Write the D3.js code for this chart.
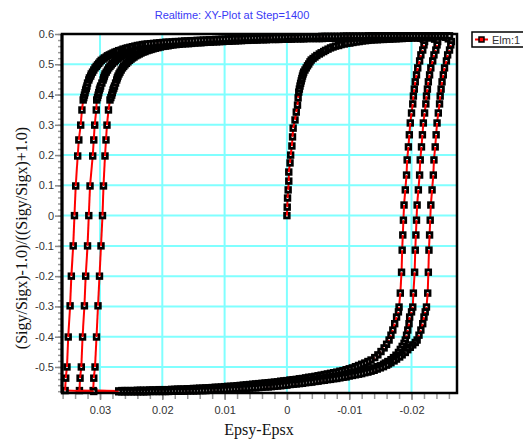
<!DOCTYPE html>
<html>
<head>
<meta charset="utf-8">
<script src="https://cdnjs.cloudflare.com/ajax/libs/d3/7.8.5/d3.min.js"></script>
<style>
  body { margin: 0; background: #fff; }
  svg { display: block; }
  .tick-label { font-family: "Liberation Sans", Arial, sans-serif; font-size: 11px; fill: #333; }
  .axis-title { font-family: "Liberation Serif", "Times New Roman", serif; font-size: 16px; fill: #111; }
</style>
</head>
<body>
<div id="canvas-wrapper"></div>
<script>
// tick labels
var xTicks = [0.03, 0.02, 0.01, 0, -0.01, -0.02];
var yTicks = [0.6, 0.5, 0.4, 0.3, 0.2, 0.1, 0, -0.1, -0.2, -0.3, -0.4, -0.5];

// Elm:1 history, [Epsy-Epsx, stress ratio], in the order it was recorded
var initialBranch = [[0,0],[-0.00005,0.028],[-0.0001,0.058],[-0.0002,0.085],[-0.0003,0.114],[-0.0003,0.144],
  [-0.0005,0.174],[-0.0006,0.200],[-0.0008,0.230],[-0.0009,0.260],[-0.001,0.289],[-0.0013,0.316],[-0.0015,0.342],
  [-0.0017,0.365],[-0.0018,0.389],[-0.0019,0.408],[-0.0020,0.418],[-0.0021,0.428],[-0.0022,0.437],[-0.0023,0.445],
  [-0.0024,0.453],[-0.0025,0.461],[-0.0026,0.468],[-0.0027,0.474],[-0.0029,0.481],[-0.0031,0.488],[-0.0033,0.495],
  [-0.0035,0.501],[-0.0037,0.508],[-0.0039,0.514],[-0.0042,0.519],[-0.0045,0.524],[-0.0048,0.529],[-0.0052,0.534],
  [-0.0055,0.538],[-0.0059,0.542],[-0.0062,0.546],[-0.0066,0.550],[-0.0070,0.554],[-0.0074,0.557],[-0.0078,0.560],
  [-0.0083,0.562],[-0.0087,0.565],[-0.0092,0.567],[-0.0096,0.569],[-0.0101,0.570],[-0.0106,0.572],[-0.0111,0.574],
  [-0.0116,0.575],[-0.0121,0.577],[-0.0126,0.578],[-0.013,0.579]];
var topBranch0 = [[-0.0135,0.580],[-0.014,0.581],[-0.0145,0.581],[-0.015,0.582],[-0.0155,0.582],[-0.016,0.583],
  [-0.0165,0.583],[-0.017,0.584],[-0.0175,0.584],[-0.018,0.585],[-0.0185,0.585],[-0.019,0.586],[-0.0195,0.586],
  [-0.020,0.587],[-0.0205,0.587],[-0.021,0.587],[-0.0215,0.586],[-0.0219,0.583]];

var rightBranch1 = [[-0.0221,0.575],[-0.0220,0.564],[-0.0218,0.547],[-0.0215,0.531],[-0.0213,0.511],[-0.0210,0.488],
  [-0.0208,0.465],[-0.0206,0.442],[-0.02045,0.418],[-0.0203,0.395],[-0.0202,0.369],[-0.0200,0.339],[-0.0198,0.306],
  [-0.01965,0.267],[-0.0195,0.227],[-0.0193,0.184],[-0.0192,0.134],[-0.0190,0.085],[-0.0188,0.035],[-0.0187,-0.015],
  [-0.0186,-0.064],[-0.0185,-0.114],[-0.0184,-0.187],[-0.0182,-0.256],[-0.0180,-0.302],[-0.0179,-0.318],
  [-0.0176,-0.335],[-0.0173,-0.357],[-0.0170,-0.378],[-0.0167,-0.395],[-0.0164,-0.411],[-0.0160,-0.425],
  [-0.0156,-0.437],[-0.0151,-0.449],[-0.0146,-0.460],[-0.0141,-0.469],[-0.0135,-0.477],[-0.0130,-0.482]];
var bottomBranch1 = [[-0.0125,-0.487],[-0.0120,-0.491],[-0.0115,-0.495],[-0.0110,-0.499],[-0.0105,-0.503],
  [-0.0100,-0.506],[-0.0095,-0.509],[-0.0090,-0.512],[-0.0085,-0.514],[-0.0080,-0.517],[-0.0075,-0.519],
  [-0.0070,-0.521],[-0.0065,-0.523],[-0.0060,-0.525],[-0.0055,-0.527],[-0.0050,-0.529],[-0.0045,-0.531],
  [-0.0040,-0.533],[-0.0035,-0.534],[-0.0030,-0.536],[-0.0025,-0.538],[-0.0020,-0.539],[-0.0015,-0.541],
  [-0.0010,-0.542],[-0.0005,-0.543],[0.0000,-0.545],[0.0005,-0.546],[0.0010,-0.547],[0.0015,-0.549],[0.0020,-0.550],
  [0.0025,-0.551],[0.0030,-0.552],[0.0035,-0.553],[0.0040,-0.554],[0.0045,-0.555],[0.0050,-0.556],[0.0055,-0.557],
  [0.0060,-0.558],[0.0065,-0.559],[0.0070,-0.560],[0.0075,-0.561],[0.0080,-0.562],[0.0085,-0.563],[0.0090,-0.564],
  [0.0095,-0.564],[0.0100,-0.565],[0.0105,-0.566],[0.0110,-0.567],[0.0115,-0.567],[0.0120,-0.568],[0.0125,-0.569],
  [0.0130,-0.569],[0.0135,-0.570],[0.0140,-0.570],[0.0145,-0.571],[0.0150,-0.571],[0.0155,-0.572],[0.0160,-0.572],
  [0.0165,-0.573],[0.0170,-0.573],[0.0175,-0.573],[0.0180,-0.574],[0.0185,-0.574],[0.0190,-0.575],[0.0195,-0.575],
  [0.0200,-0.575],[0.0205,-0.575],[0.0210,-0.576],[0.0215,-0.576],[0.0220,-0.576],[0.0225,-0.577],[0.0230,-0.577],
  [0.0235,-0.577],[0.0240,-0.577],[0.0245,-0.578],[0.0250,-0.578],[0.0255,-0.578],[0.0260,-0.578],[0.0265,-0.578],
  [0.0270,-0.579],[0.0311,-0.578]];
var leftBranch1 = [[0.0310,-0.537],[0.0308,-0.500],[0.03056,-0.401],[0.03032,-0.298],[0.03008,-0.200],
  [0.02984,-0.100],[0.0296,0.0],[0.02944,0.098],[0.0292,0.197],[0.02904,0.250],[0.02888,0.299],[0.02864,0.349],
  [0.0284,0.382],[0.02826,0.390],[0.02812,0.398],[0.02802,0.406],[0.02791,0.415],[0.02779,0.421],[0.02767,0.428],
  [0.0275,0.438],[0.02732,0.448],[0.02722,0.455],[0.02711,0.461],[0.02695,0.468],[0.02679,0.474],[0.0266,0.481],
  [0.02639,0.488],[0.0262,0.493],[0.02599,0.498],[0.02575,0.503],[0.02551,0.508],[0.02527,0.513],[0.02502,0.517],
  [0.02478,0.521],[0.02454,0.524],[0.02426,0.528],[0.02398,0.531],[0.0237,0.534],[0.02342,0.537],[0.0231,0.540],
  [0.02278,0.542],[0.02245,0.545],[0.02213,0.547],[0.0218,0.549],[0.02149,0.551],[0.0211,0.553],[0.02069,0.555],
  [0.0203,0.557],[0.01989,0.559],[0.0195,0.560],[0.01908,0.561],[0.0187,0.563],[0.01828,0.564]];
var topBranch1 = [[0.0178,0.565],[0.0173,0.566],[0.0168,0.567],[0.0163,0.568],[0.0158,0.568],[0.0153,0.569],
  [0.0148,0.570],[0.0143,0.571],[0.0138,0.571],[0.0133,0.572],[0.0128,0.573],[0.0123,0.573],[0.0118,0.574],
  [0.0113,0.574],[0.0108,0.575],[0.0103,0.575],[0.0098,0.576],[0.0093,0.576],[0.0088,0.577],[0.0083,0.577],
  [0.0078,0.578],[0.0073,0.578],[0.0068,0.579],[0.0063,0.579],[0.0058,0.580],[0.0053,0.580],[0.0048,0.580],
  [0.0043,0.581],[0.0038,0.581],[0.0033,0.581],[0.0028,0.582],[0.0023,0.582],[0.0018,0.582],[0.0013,0.582],
  [0.0008,0.583],[0.0003,0.583],[-0.0002,0.583],[-0.0007,0.583],[-0.0012,0.584],[-0.0017,0.584],[-0.0022,0.584],
  [-0.0027,0.584],[-0.0032,0.585],[-0.0037,0.585],[-0.0042,0.585],[-0.0047,0.585],[-0.0052,0.585],[-0.0057,0.585],
  [-0.0062,0.586],[-0.0067,0.586],[-0.0072,0.586],[-0.0077,0.586],[-0.0082,0.586],[-0.0087,0.586],[-0.0092,0.587],
  [-0.0097,0.587],[-0.0102,0.587],[-0.0107,0.587],[-0.0112,0.587],[-0.0117,0.587],[-0.0122,0.587],[-0.0127,0.587],
  [-0.0132,0.588],[-0.0137,0.588],[-0.0142,0.588],[-0.0147,0.588],[-0.0152,0.588],[-0.0157,0.588],[-0.0162,0.588],
  [-0.0167,0.588],[-0.0172,0.589],[-0.0177,0.589],[-0.0182,0.589],[-0.0187,0.589],[-0.0192,0.589],[-0.0197,0.589],
  [-0.0202,0.589],[-0.0207,0.589],[-0.0212,0.589],[-0.0217,0.589],[-0.0222,0.589],[-0.0227,0.588],[-0.0232,0.587],
  [-0.0237,0.583]];

var rightBranch2 = [[-0.0242,0.575],[-0.0241,0.564],[-0.0239,0.547],[-0.0236,0.531],[-0.0234,0.511],[-0.0231,0.488],
  [-0.0229,0.465],[-0.0227,0.442],[-0.02255,0.418],[-0.0224,0.395],[-0.0223,0.369],[-0.0221,0.339],[-0.0219,0.306],
  [-0.02175,0.267],[-0.0216,0.227],[-0.0214,0.184],[-0.0213,0.134],[-0.0211,0.085],[-0.0209,0.035],[-0.0208,-0.015],
  [-0.0207,-0.064],[-0.0206,-0.114],[-0.0205,-0.187],[-0.0203,-0.256],[-0.0202,-0.302],[-0.0200,-0.318],
  [-0.0197,-0.335],[-0.0196,-0.357],[-0.0194,-0.378],[-0.0192,-0.395],[-0.0190,-0.411],[-0.0188,-0.422],
  [-0.0185,-0.432],[-0.0182,-0.442],[-0.0179,-0.452],[-0.0175,-0.461],[-0.0171,-0.469],[-0.0167,-0.476],
  [-0.0162,-0.482],[-0.0158,-0.487]];
var bottomBranch2 = [[-0.0155,-0.491],[-0.0150,-0.496],[-0.0145,-0.499],[-0.0140,-0.503],[-0.0135,-0.506],
  [-0.0130,-0.509],[-0.0125,-0.511],[-0.0120,-0.514],[-0.0115,-0.516],[-0.0110,-0.518],[-0.0105,-0.520],
  [-0.0100,-0.522],[-0.0095,-0.524],[-0.0090,-0.527],[-0.0085,-0.528],[-0.0080,-0.530],[-0.0075,-0.532],
  [-0.0070,-0.533],[-0.0065,-0.535],[-0.0060,-0.537],[-0.0055,-0.538],[-0.0050,-0.540],[-0.0045,-0.542],
  [-0.0040,-0.543],[-0.0035,-0.545],[-0.0030,-0.546],[-0.0025,-0.547],[-0.0020,-0.549],[-0.0015,-0.550],
  [-0.0010,-0.551],[-0.0005,-0.552],[0.0000,-0.553],[0.0005,-0.554],[0.0010,-0.555],[0.0015,-0.556],[0.0020,-0.557],
  [0.0025,-0.558],[0.0030,-0.559],[0.0035,-0.560],[0.0040,-0.561],[0.0045,-0.562],[0.0050,-0.563],[0.0055,-0.564],
  [0.0060,-0.564],[0.0065,-0.565],[0.0070,-0.566],[0.0075,-0.567],[0.0080,-0.567],[0.0085,-0.568],[0.0090,-0.569],
  [0.0095,-0.569],[0.0100,-0.570],[0.0105,-0.571],[0.0110,-0.571],[0.0115,-0.572],[0.0120,-0.572],[0.0125,-0.573],
  [0.0130,-0.573],[0.0135,-0.574],[0.0140,-0.574],[0.0145,-0.575],[0.0150,-0.575],[0.0155,-0.576],[0.0160,-0.576],
  [0.0165,-0.576],[0.0170,-0.577],[0.0175,-0.577],[0.0180,-0.577],[0.0185,-0.578],[0.0190,-0.578],[0.0195,-0.578],
  [0.0200,-0.578],[0.0205,-0.579],[0.0210,-0.579],[0.0215,-0.579],[0.0220,-0.579],[0.0225,-0.579],[0.0230,-0.580],
  [0.0235,-0.580],[0.0240,-0.580],[0.0245,-0.580],[0.0250,-0.580],[0.0255,-0.580],[0.0260,-0.580],[0.0265,-0.580],
  [0.0333,-0.578]];
var leftBranch2 = [[0.0332,-0.537],[0.0330,-0.500],[0.0328,-0.401],[0.0325,-0.298],[0.0323,-0.200],[0.0320,-0.100],
  [0.0318,0.0],[0.0316,0.098],[0.03117,0.197],[0.0310,0.250],[0.03085,0.299],[0.0306,0.349],[0.03053,0.382],
  [0.0304,0.390],[0.0303,0.398],[0.0302,0.406],[0.0301,0.415],[0.0300,0.421],[0.0299,0.428],[0.0297,0.438],
  [0.0295,0.448],[0.0294,0.455],[0.0293,0.461],[0.0292,0.468],[0.0290,0.474],[0.0288,0.481],[0.0286,0.488],
  [0.0284,0.493],[0.0282,0.498],[0.0280,0.503],[0.0277,0.508],[0.0275,0.513],[0.0272,0.517],[0.0270,0.521],
  [0.0267,0.524],[0.0265,0.528],[0.0262,0.531],[0.0259,0.534],[0.0256,0.537],[0.0253,0.540],[0.0250,0.542],
  [0.0247,0.545],[0.0243,0.547],[0.0240,0.549],[0.0236,0.551],[0.0232,0.553],[0.0228,0.555],[0.0224,0.557],
  [0.0220,0.559],[0.0216,0.561],[0.0212,0.562],[0.0208,0.563],[0.0204,0.564]];
var topBranch2 = [[0.0200,0.565],[0.0195,0.566],[0.0190,0.567],[0.0185,0.568],[0.0180,0.569],[0.0175,0.570],
  [0.0170,0.570],[0.0165,0.571],[0.0160,0.572],[0.0155,0.572],[0.0150,0.573],[0.0145,0.574],[0.0140,0.574],
  [0.0135,0.575],[0.0130,0.575],[0.0125,0.576],[0.0120,0.576],[0.0115,0.577],[0.0110,0.577],[0.0105,0.578],
  [0.0100,0.578],[0.0095,0.579],[0.0090,0.579],[0.0085,0.580],[0.0080,0.580],[0.0075,0.581],[0.0070,0.581],
  [0.0065,0.582],[0.0060,0.582],[0.0055,0.583],[0.0050,0.583],[0.0045,0.584],[0.0040,0.584],[0.0035,0.584],
  [0.0030,0.585],[0.0025,0.585],[0.0020,0.585],[0.0015,0.585],[0.0010,0.586],[0.0005,0.586],[0.0000,0.586],
  [-0.0005,0.586],[-0.0010,0.587],[-0.0015,0.587],[-0.0020,0.587],[-0.0025,0.587],[-0.0030,0.588],[-0.0035,0.588],
  [-0.0040,0.588],[-0.0045,0.588],[-0.0050,0.588],[-0.0055,0.588],[-0.0060,0.589],[-0.0065,0.589],[-0.0070,0.589],
  [-0.0075,0.589],[-0.0080,0.589],[-0.0085,0.589],[-0.0090,0.590],[-0.0095,0.590],[-0.0100,0.590],[-0.0105,0.590],
  [-0.0110,0.590],[-0.0115,0.590],[-0.0120,0.590],[-0.0125,0.590],[-0.0130,0.591],[-0.0135,0.591],[-0.0140,0.591],
  [-0.0145,0.591],[-0.0150,0.591],[-0.0155,0.591],[-0.0160,0.591],[-0.0165,0.591],[-0.0170,0.592],[-0.0175,0.592],
  [-0.0180,0.592],[-0.0185,0.592],[-0.0190,0.592],[-0.0195,0.592],[-0.0200,0.592],[-0.0205,0.592],[-0.0210,0.592],
  [-0.0215,0.592],[-0.0220,0.592],[-0.0225,0.592],[-0.0230,0.592],[-0.0235,0.592],[-0.0240,0.592],[-0.0245,0.592],
  [-0.0250,0.591],[-0.0255,0.589],[-0.0259,0.584]];

var rightBranch3 = [[-0.0264,0.575],[-0.0263,0.564],[-0.0261,0.547],[-0.0258,0.531],[-0.0256,0.511],[-0.0253,0.488],
  [-0.0251,0.465],[-0.0249,0.442],[-0.02475,0.418],[-0.0246,0.395],[-0.0245,0.369],[-0.0243,0.339],[-0.0241,0.306],
  [-0.02395,0.267],[-0.0238,0.227],[-0.0236,0.184],[-0.0235,0.134],[-0.0233,0.085],[-0.0231,0.035],[-0.0230,-0.015],
  [-0.0229,-0.064],[-0.0228,-0.114],[-0.0227,-0.187],[-0.0226,-0.256],[-0.0224,-0.302],[-0.0222,-0.318],
  [-0.0220,-0.335],[-0.0218,-0.357],[-0.0215,-0.378],[-0.0212,-0.395],[-0.0209,-0.411],[-0.0206,-0.419],
  [-0.0202,-0.427],[-0.0198,-0.435],[-0.0194,-0.443],[-0.0190,-0.452],[-0.0185,-0.460],[-0.0181,-0.467],
  [-0.0176,-0.474],[-0.0172,-0.480],[-0.0167,-0.486],[-0.0163,-0.490]];
var bottomBranch3 = [[-0.0160,-0.494],[-0.0155,-0.499],[-0.0150,-0.503],[-0.0145,-0.507],[-0.0140,-0.511],
  [-0.0135,-0.514],[-0.0130,-0.517],[-0.0125,-0.519],[-0.0120,-0.522],[-0.0115,-0.524],[-0.0110,-0.526],
  [-0.0105,-0.528],[-0.0100,-0.530],[-0.0095,-0.533],[-0.0090,-0.534],[-0.0085,-0.536],[-0.0080,-0.538],
  [-0.0075,-0.539],[-0.0070,-0.541],[-0.0065,-0.542],[-0.0060,-0.544],[-0.0055,-0.545],[-0.0050,-0.547],
  [-0.0045,-0.548],[-0.0040,-0.550],[-0.0035,-0.551],[-0.0030,-0.552],[-0.0025,-0.554],[-0.0020,-0.555],
  [-0.0015,-0.556],[-0.0010,-0.557],[-0.0005,-0.558],[0.0000,-0.560],[0.0005,-0.561],[0.0010,-0.562],[0.0015,-0.563],
  [0.0020,-0.564],[0.0025,-0.565],[0.0030,-0.566],[0.0035,-0.566],[0.0040,-0.567],[0.0045,-0.568],[0.0050,-0.569],
  [0.0055,-0.569],[0.0060,-0.570],[0.0065,-0.571],[0.0070,-0.571],[0.0075,-0.572],[0.0080,-0.573],[0.0085,-0.573],
  [0.0090,-0.574],[0.0095,-0.574],[0.0100,-0.575],[0.0105,-0.575],[0.0110,-0.576],[0.0115,-0.576],[0.0120,-0.577],
  [0.0125,-0.577],[0.0130,-0.578],[0.0135,-0.578],[0.0140,-0.578],[0.0145,-0.579],[0.0150,-0.579],[0.0155,-0.579],
  [0.0160,-0.579],[0.0165,-0.580],[0.0170,-0.580],[0.0175,-0.580],[0.0180,-0.580],[0.0185,-0.580],[0.0190,-0.581],
  [0.0195,-0.581],[0.0200,-0.581],[0.0205,-0.581],[0.0210,-0.581],[0.0215,-0.581],[0.0220,-0.581],[0.0225,-0.582],
  [0.0230,-0.582],[0.0235,-0.582],[0.0240,-0.582],[0.0245,-0.582],[0.0250,-0.582],[0.0255,-0.582],[0.0260,-0.582],
  [0.0265,-0.582],[0.0270,-0.582],[0.0310,-0.581],[0.0356,-0.578]];
var leftBranch3 = [[0.0355,-0.537],[0.0353,-0.500],[0.0351,-0.401],[0.0348,-0.298],[0.0346,-0.200],[0.0343,-0.100],
  [0.0341,0.0],[0.0339,0.098],[0.03358,0.197],[0.0334,0.250],[0.0331,0.299],[0.0329,0.349],[0.0327,0.382],
  [0.0326,0.390],[0.0325,0.398],[0.0324,0.406],[0.0323,0.415],[0.0322,0.421],[0.0321,0.428],[0.0320,0.438],
  [0.0318,0.448],[0.0317,0.455],[0.0315,0.461],[0.0314,0.468],[0.0312,0.474],[0.0310,0.481],[0.0308,0.488],
  [0.0306,0.493],[0.0304,0.498],[0.0302,0.503],[0.0300,0.508],[0.0298,0.513],[0.0295,0.517],[0.0293,0.521],
  [0.0290,0.524],[0.0288,0.528],[0.0285,0.531],[0.0282,0.534],[0.0279,0.537],[0.0276,0.540],[0.0273,0.542],
  [0.0270,0.545],[0.0266,0.547],[0.0263,0.550],[0.0259,0.552],[0.0256,0.554],[0.0252,0.556],[0.0248,0.558],
  [0.0244,0.560],[0.0240,0.562],[0.0236,0.563],[0.0232,0.565],[0.0228,0.566]];
var topBranch3 = [[0.0224,0.567],[0.0219,0.568],[0.0214,0.569],[0.0209,0.570],[0.0204,0.571],[0.0199,0.572],
  [0.0194,0.573],[0.0189,0.573],[0.0184,0.574],[0.0179,0.575],[0.0174,0.575],[0.0169,0.576],[0.0164,0.577],
  [0.0159,0.577],[0.0154,0.578],[0.0149,0.578],[0.0144,0.579],[0.0139,0.579],[0.0134,0.580],[0.0129,0.580],
  [0.0124,0.581],[0.0119,0.581],[0.0114,0.582],[0.0109,0.582],[0.0104,0.583],[0.0099,0.583],[0.0094,0.584],
  [0.0089,0.584],[0.0084,0.585],[0.0079,0.585],[0.0074,0.585],[0.0069,0.586],[0.0064,0.586],[0.0059,0.586],
  [0.0054,0.587],[0.0049,0.587],[0.0044,0.587],[0.0039,0.588],[0.0034,0.588],[0.0029,0.588],[0.0024,0.588],
  [0.0019,0.589],[0.0014,0.589],[0.0009,0.589],[0.0004,0.589],[-0.0001,0.590],[-0.0006,0.590],[-0.0011,0.590],
  [-0.0016,0.590],[-0.0021,0.590],[-0.0026,0.591],[-0.0031,0.591],[-0.0036,0.591],[-0.0041,0.591],[-0.0046,0.591],
  [-0.0051,0.591],[-0.0056,0.592],[-0.0061,0.592],[-0.0066,0.592],[-0.0071,0.592],[-0.0076,0.592],[-0.0081,0.592],
  [-0.0086,0.592],[-0.0091,0.593],[-0.0096,0.593],[-0.0101,0.593],[-0.0106,0.593],[-0.0111,0.593],[-0.0116,0.593],
  [-0.0121,0.593],[-0.0126,0.593],[-0.0131,0.594],[-0.0136,0.594],[-0.0141,0.594],[-0.0146,0.594],[-0.0151,0.594],
  [-0.0156,0.594],[-0.0161,0.594],[-0.0166,0.594],[-0.0171,0.594],[-0.0176,0.594],[-0.0181,0.594],[-0.0186,0.594],
  [-0.0191,0.594],[-0.0196,0.594],[-0.0201,0.594],[-0.0206,0.594],[-0.0211,0.594],[-0.0216,0.594],[-0.0221,0.594],
  [-0.0226,0.594],[-0.0231,0.594],[-0.0236,0.594],[-0.0241,0.594],[-0.0246,0.594],[-0.0251,0.594],[-0.0256,0.594],
  [-0.0261,0.594]];

var elmHistory = [].concat(initialBranch, topBranch0,
  rightBranch1, bottomBranch1, leftBranch1, topBranch1,
  rightBranch2, bottomBranch2, leftBranch2, topBranch2,
  rightBranch3, bottomBranch3, leftBranch3, topBranch3);

var margin = {top: 34, right: 66, bottom: 50, left: 62},
    width = 523 - margin.left - margin.right,
    height = 443 - margin.top - margin.bottom;

var x = d3.scaleLinear().domain([0.0361, -0.0273]).range([0, width]);
var y = d3.scaleLinear().domain([-0.586, 0.6]).range([height, 0]);

var root = d3.select("#canvas-wrapper").append("svg")
    .attr("width", 523)
    .attr("height", 443);

root.append("rect").attr("width", 523).attr("height", 443).attr("fill", "#fff");

var svg = root.append("g")
    .attr("transform", "translate(" + margin.left + "," + margin.top + ")");

// cyan grid
svg.append("g")
  .selectAll("line")
  .data(yTicks)
  .enter().append("line")
    .attr("x1", 0).attr("x2", width)
    .attr("y1", function(d) { return y(d); })
    .attr("y2", function(d) { return y(d); })
    .attr("stroke", "#80ffff").attr("stroke-width", 2);
svg.append("g")
  .selectAll("line")
  .data(xTicks)
  .enter().append("line")
    .attr("y1", 0).attr("y2", height)
    .attr("x1", function(d) { return x(d); })
    .attr("x2", function(d) { return x(d); })
    .attr("stroke", "#80ffff").attr("stroke-width", 2);

// minor ticks
var minorX = svg.append("g")
    .attr("transform", "translate(0," + height + ")")
    .call(d3.axisBottom(x).ticks(30).tickSize(6).tickFormat(""));
var minorY = svg.append("g")
    .call(d3.axisLeft(y).ticks(60).tickSize(4).tickFormat(""));
[minorX, minorY].forEach(function(g) {
  g.select(".domain").remove();
  g.selectAll(".tick line").attr("stroke", "#999").attr("stroke-width", 1.5);
});

// major axes
var xAxis = svg.append("g")
    .attr("transform", "translate(0," + height + ")")
    .call(d3.axisBottom(x).tickValues(xTicks).tickSize(7).tickPadding(6)
      .tickFormat(function(d) { return String(d); }));
var yAxis = svg.append("g")
    .call(d3.axisLeft(y).tickValues(yTicks).tickSize(7).tickPadding(1)
      .tickFormat(function(d) { return String(d); }));
[xAxis, yAxis].forEach(function(g) {
  g.select(".domain").remove();
  g.selectAll(".tick line").attr("stroke", "#888").attr("stroke-width", 1.5);
  g.selectAll(".tick text").attr("class", "tick-label").attr("fill", null);
});

// the history: marker then segment to next point
var n = elmHistory.length;
var pts = svg.append("g").selectAll("g")
    .data(elmHistory)
  .enter().append("g");
pts.append("rect")
    .attr("x", function(d) { return x(d[0]) - 2.3; })
    .attr("y", function(d) { return y(d[1]) - 2.3; })
    .attr("width", 4.6).attr("height", 4.6)
    .attr("fill", "#fff").attr("stroke", "#000").attr("stroke-width", 2.8);
pts.each(function(d, i) {
  if (i >= n - 1) return;
  var e = elmHistory[i + 1];
  d3.select(this).append("line")
    .attr("x1", x(d[0])).attr("y1", y(d[1]))
    .attr("x2", x(e[0])).attr("y2", y(e[1]))
    .attr("stroke", "#ff0000").attr("stroke-width", 2);
});

// frame
svg.append("line").attr("x1", 0).attr("x2", 0).attr("y1", 0).attr("y2", height)
    .attr("stroke", "#000").attr("stroke-width", 3);
svg.append("rect").attr("width", width).attr("height", height)
    .attr("fill", "none").attr("stroke", "#000").attr("stroke-width", 2.5);

// title
root.append("text")
    .attr("x", 232).attr("y", 18.5)
    .attr("text-anchor", "middle")
    .attr("class", "tick-label")
    .attr("style", "fill:#3a3af5")
    .text("Realtime: XY-Plot at Step=1400");

// axis titles
root.append("text")
    .attr("class", "axis-title")
    .attr("x", 259).attr("y", 435)
    .attr("text-anchor", "middle")
    .text("Epsy-Epsx");
root.append("text")
    .attr("class", "axis-title")
    .attr("transform", "translate(27,238) rotate(-90)")
    .attr("text-anchor", "middle")
    .text("(Sigy/Sigx)-1.0)/((Sigy/Sigx)+1.0)");

// legend
var legend = root.append("g").attr("transform", "translate(472,32)");
legend.append("rect").attr("width", 54).attr("height", 15)
    .attr("fill", "#fff").attr("stroke", "#000").attr("stroke-width", 1.5);
legend.append("line").attr("x1", 3).attr("x2", 16).attr("y1", 7.5).attr("y2", 7.5)
    .attr("stroke", "#ff0000").attr("stroke-width", 2);
legend.append("rect").attr("x", 7).attr("y", 5).attr("width", 5).attr("height", 5)
    .attr("fill", "#ff0000").attr("stroke", "#000").attr("stroke-width", 1.5);
legend.append("text").attr("class", "tick-label").attr("x", 20).attr("y", 11.5)
    .text("Elm:1");
</script>
</body>
</html>
